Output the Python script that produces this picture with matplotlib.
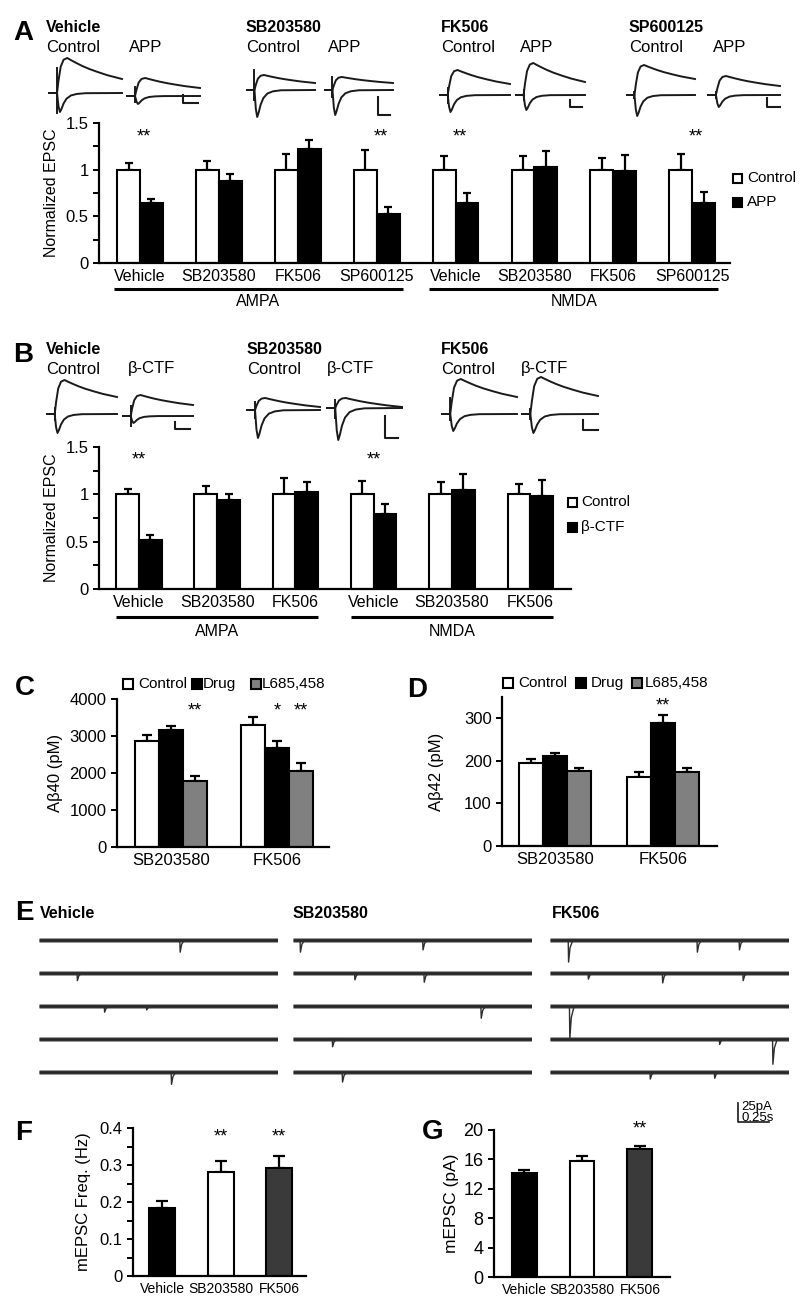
#!/usr/bin/env python3

import matplotlib
matplotlib.use("Agg")
import matplotlib.pyplot as plt
import numpy as np
from matplotlib.patches import Rectangle
from matplotlib.transforms import blended_transform_factory

plt.rcParams["font.family"] = ["Liberation Sans", "DejaVu Sans"]

W, H = 800, 1305  # canvas size in px (dpi 100)

# ---- A: normalized EPSC, control vs APP (AMPA groups then NMDA groups) ----
a_drugs = ["Vehicle", "SB203580", "FK506", "SP600125"] * 2
a_ctrl = [1.0, 1.0, 1.0, 1.0, 1.0, 1.0, 1.0, 1.0]
a_ctrl_err = [0.07, 0.09, 0.17, 0.21, 0.15, 0.15, 0.12, 0.17]
a_app = [0.64, 0.88, 1.22, 0.53, 0.64, 1.03, 0.99, 0.64]
a_app_err = [0.05, 0.07, 0.10, 0.07, 0.11, 0.17, 0.17, 0.12]
a_sig = [0, 3, 4, 7]

# ---- B: normalized EPSC, control vs beta-CTF ----
b_drugs = ["Vehicle", "SB203580", "FK506"] * 2
b_ctrl = [1.0, 1.0, 1.0, 1.0, 1.0, 1.0]
b_ctrl_err = [0.06, 0.09, 0.17, 0.14, 0.13, 0.11]
b_ctf = [0.52, 0.94, 1.02, 0.79, 1.05, 0.98]
b_ctf_err = [0.05, 0.06, 0.11, 0.11, 0.17, 0.17]
b_sig = [0, 3]

# ---- C / D: Abeta40 and Abeta42 (pM) ----
cd_drugs = ["SB203580", "FK506"]
c_ctrl = [2870, 3310]
c_ctrl_err = [150, 205]
c_drug = [3170, 2680]
c_drug_err = [100, 190]
c_l685 = [1780, 2050]
c_l685_err = [135, 215]
d_ctrl = [194, 162]
d_ctrl_err = [10, 12]
d_drug = [211, 289]
d_drug_err = [8, 18]
d_l685 = [176, 174]
d_l685_err = [7, 10]

# ---- F / G: mEPSC frequency and amplitude ----
fg_drugs = ["Vehicle", "SB203580", "FK506"]
f_freq = [0.185, 0.281, 0.293]
f_err = [0.018, 0.031, 0.030]
g_amp = [14.1, 15.8, 17.4]
g_err = [0.45, 0.6, 0.4]

# ---- E: mEPSC events per sweep (sweep index, time s, amplitude pA) ----
e_titles = ["Vehicle", "SB203580", "FK506"]
e_vehicle = [(0, 1.14, 16), (1, 0.31, 10), (2, 0.53, 8), (2, 0.87, 5), (4, 1.07, 16)]
e_sb = [(0, 0.06, 16), (0, 1.05, 13), (1, 0.50, 9), (1, 1.06, 12),
        (2, 1.52, 16), (3, 0.32, 10), (4, 0.40, 13)]
e_fk = [(0, 0.15, 29), (0, 1.19, 16), (0, 1.53, 13), (1, 0.31, 8), (1, 0.91, 13),
        (1, 1.56, 10), (2, 0.16, 43), (3, 1.37, 7), (3, 1.80, 33), (4, 0.81, 9),
        (4, 1.33, 8)]
sweep_len = 1.93   # s
sweep_gap = 43.4   # pA between stacked sweeps

# ---- evoked EPSC sweep template ----
tpl_t_up = [0, 0.11, 0.13, 0.16, 0.2, 0.25, 0.3, 0.37, 0.45, 0.55, 0.67, 0.8, 1.0]
tpl_rise = [0, 0, 0.35, 0.75, 0.95, 1.0]
tpl_decay = [0.9, 0.77, 0.63, 0.48, 0.33, 0.18, 0.0]
tpl_t_lo = [0, 0.11, 0.13, 0.15, 0.17, 0.2, 0.24, 0.3, 0.38, 0.5, 1.0]
tpl_lo = [0, 0, 0.7, 1.0, 0.85, 0.55, 0.3, 0.13, 0.05, 0.01, 0]
# amplitudes (peak up, end up, dip, artifact up/down)
a_up = [35, 18, 15, 13, 25, 32, 30, 19]
a_end = [14, 8, 7, 7, 11, 13, 16, 9]
a_low = [19, 8, 27, 25, 17, 15, 21, 12]
a_art = [(25, 20), (9, 6), (20, 10), (13, 7), (7, 8), (5, 5), (3, 3), (3, 3)]
b_up = [34, 21, 12, 10, 35, 37]
b_end = [17, 11, 3, 1, 17, 18]
b_low = [19, 7, 28, 32, 17, 19]
b_art = [(6, 6), (10, 10), (8, 8), (8, 10), (16, 6), (5, 5)]

trace_c = "#1a1a1a"
STAR_FS = 13


def fy(y):
    return 1 - y / H


def px_axes(x0, y0, x1, y1):
    return fig.add_axes([x0 / W, 1 - y1 / H, (x1 - x0) / W, (y1 - y0) / H])


def ftext(x, y, s, **kw):
    kw.setdefault("va", "center")
    kw.setdefault("fontsize", 12)
    fig.text(x / W, fy(y), s, **kw)


def style(ax, xlim, ylim, ticks, labels, minor=None, fs=12):
    for s in ["top", "right"]:
        ax.spines[s].set_visible(False)
    for s in ["left", "bottom"]:
        ax.spines[s].set_linewidth(1.6)
    ax.set_xlim(*xlim)
    ax.set_ylim(*ylim)
    ax.set_yticks(ticks, labels)
    if minor is not None:
        ax.set_yticks(minor, minor=True)
    ax.tick_params(axis="y", which="both", direction="out", length=4.5,
                   width=1.4, labelsize=fs, pad=3)
    ax.tick_params(axis="x", length=0, pad=4)
    ax.patch.set_visible(False)


def bars(ax, x, vals, errs, width, color, capsize=3.3):
    ax.errorbar(x, vals, yerr=[np.zeros(len(vals)), errs], fmt="none",
                ecolor="black", elinewidth=1.6, capsize=capsize, capthick=1.6,
                zorder=1)
    ax.bar(x, vals, width, color=color, edgecolor="black", linewidth=1.5,
           zorder=2)


def underline(ax, i0, i1, label, y_line, y_text, half):
    tr = blended_transform_factory(ax.transData, fig.transFigure)
    ax.plot([i0 - half, i1 + half], [fy(y_line)] * 2, transform=tr,
            color="black", lw=2.2, clip_on=False, solid_capstyle="butt")
    ax.text((i0 + i1) / 2, fy(y_text), label, transform=tr, ha="center",
            va="center", fontsize=11.5)


def key(x, y, face, label, size=9, fs=11, tx=None):
    ov.add_patch(Rectangle((x - size / 2, y - size / 2), size, size,
                           facecolor=face, edgecolor="black", lw=1.5))
    ov.text(tx if tx is not None else x + 9, y, label, va="center",
            fontsize=fs)


def sweep_pair(x0, base, w, up, end, low, art):
    tu = [x0 + f * w for f in tpl_t_up]
    vu = [r * up for r in tpl_rise] + [end + (up - end) * d for d in tpl_decay]
    ov.plot(tu, [base - v for v in vu], color=trace_c, lw=1.4)
    tl = [x0 + f * w for f in tpl_t_lo]
    ov.plot(tl, [base + low * v for v in tpl_lo], color=trace_c, lw=1.4)
    xa = x0 + tpl_t_up[1] * w
    ov.plot([xa, xa], [base - art[0], base + art[1]], color=trace_c, lw=1.4)


def scalebar(x, ytop, h, w):
    ov.plot([x, x, x + w], [ytop, ytop + h, ytop + h], color=trace_c, lw=1.5)


fig = plt.figure(figsize=(W / 100, H / 100), dpi=100)
ov = fig.add_axes([0, 0, 1, 1])
ov.set_xlim(0, W)
ov.set_ylim(H, 0)
ov.axis("off")

# ================= A =================
ftext(13, 33, "A", fontsize=20, fontweight="bold")
for x, name, other in [(46, "Vehicle", 129), (246, "SB203580", 328),
                       (441, "FK506", 520), (629, "SP600125", 713)]:
    ftext(x, 27, name, fontweight="bold", fontsize=11.5)
    ftext(x, 48, "Control")
    ftext(other, 47, "APP")
a_x0 = [49, 127, 247, 325, 440, 516, 627, 708]
a_base = [93, 96, 90, 90, 95, 95, 95, 95]
a_w = [73, 73, 68, 68, 70, 69, 68, 72]
for i in range(8):
    sweep_pair(a_x0[i], a_base[i], a_w[i], a_up[i], a_end[i], a_low[i], a_art[i])
for sb in [(183, 95, 8, 15), (378, 97, 18, 12), (570, 100, 7, 12), (767, 98, 9, 13)]:
    scalebar(*sb)

axA = px_axes(99, 123, 730, 263)
xa = np.arange(len(a_drugs))
bw = 0.29
bars(axA, xa - bw / 2, a_ctrl, a_ctrl_err, bw, "white", 3.2)
bars(axA, xa + bw / 2, a_app, a_app_err, bw, "black", 3.2)
style(axA, (-0.52, 7.48), (0, 1.5), [0, 0.5, 1, 1.5], ["0", "0.5", "1", "1.5"],
      minor=[0.25, 0.75, 1.25])
axA.set_xticks(xa, a_drugs, fontsize=11.5)
axA.set_ylabel("Normalized EPSC", fontsize=11.5)
axA.yaxis.set_label_coords((59 - 99) / 631, 0.5)
for i in a_sig:
    axA.text(i + 0.05, 1.35, "**", ha="center", va="center", fontsize=STAR_FS)
underline(axA, 0, 3, "AMPA", 289, 302, 0.33)
underline(axA, 4, 7, "NMDA", 289, 302, 0.33)
key(737, 178, "white", "Control", tx=747)
key(737, 202, "black", "APP", tx=747)

# ================= B =================
ftext(13, 355, "B", fontsize=20, fontweight="bold")
for x, name, other in [(46, "Vehicle", 128), (247, "SB203580", 327),
                       (441, "FK506", 521)]:
    ftext(x, 349, name, fontweight="bold", fontsize=11.5)
    ftext(x, 369, "Control")
    ftext(other, 369, "β-CTF")
b_x0 = [47, 123, 247, 327, 442, 522]
b_base = [414, 416, 410, 408, 414, 414]
b_w = [70, 70, 73, 75, 75, 76]
for i in range(6):
    sweep_pair(b_x0[i], b_base[i], b_w[i], b_up[i], b_end[i], b_low[i], b_art[i])
for sb in [(175, 422, 7, 15), (385, 416, 22, 13), (583, 420, 10, 15)]:
    scalebar(*sb)

axB = px_axes(99, 447, 571, 589)
xb = np.arange(len(b_drugs))
bw = 0.29
bars(axB, xb - bw / 2, b_ctrl, b_ctrl_err, bw, "white", 3.2)
bars(axB, xb + bw / 2, b_ctf, b_ctf_err, bw, "black", 3.2)
style(axB, (-0.51, 5.52), (0, 1.5), [0, 0.5, 1, 1.5], ["0", "0.5", "1", "1.5"],
      minor=[0.25, 0.75, 1.25])
axB.set_xticks(xb, b_drugs, fontsize=11.5)
axB.set_ylabel("Normalized EPSC", fontsize=11.5)
axB.yaxis.set_label_coords((59 - 99) / 472, 0.5)
for i in b_sig:
    axB.text(i, 1.36, "**", ha="center", va="center", fontsize=STAR_FS)
underline(axB, 0, 2, "AMPA", 617, 632, 0.29)
underline(axB, 3, 5, "NMDA", 617, 632, 0.29)
key(572, 502, "white", "Control", tx=581)
key(572, 527, "black", "β-CTF", tx=581)

# ================= C =================
ftext(15, 688, "C", fontsize=20, fontweight="bold")
axC = px_axes(117, 699, 329, 847)
xc = np.arange(len(cd_drugs))
bw = 0.225
bars(axC, xc - bw, c_ctrl, c_ctrl_err, bw, "white", 3.5)
bars(axC, xc, c_drug, c_drug_err, bw, "black", 3.5)
bars(axC, xc + bw, c_l685, c_l685_err, bw, "#808080", 3.5)
style(axC, (-0.51, 1.49), (0, 4000), [0, 1000, 2000, 3000, 4000],
      ["0", "1000", "2000", "3000", "4000"])
axC.set_xticks(xc, cd_drugs, fontsize=12)
axC.set_ylabel("Aβ40 (pM)", fontsize=12)
axC.yaxis.set_label_coords((63 - 117) / 212, 0.5)
axC.text(0 + bw, 3680, "**", ha="center", va="center", fontsize=STAR_FS)
axC.text(1, 3680, "*", ha="center", va="center", fontsize=STAR_FS)
axC.text(1 + bw, 3680, "**", ha="center", va="center", fontsize=STAR_FS)
key(128, 684, "white", "Control", size=10, tx=138)
key(197, 684, "black", "Drug", size=10, tx=203)
key(256, 684, "#808080", "L685,458", size=10, tx=262)

# ================= D =================
ftext(407, 690, "D", fontsize=20, fontweight="bold")
axD = px_axes(502, 697, 717, 846)
bw = 0.222
bars(axD, xc - bw, d_ctrl, d_ctrl_err, bw, "white", 3.5)
bars(axD, xc, d_drug, d_drug_err, bw, "black", 3.5)
bars(axD, xc + bw, d_l685, d_l685_err, bw, "#808080", 3.5)
style(axD, (-0.49, 1.5), (0, 350), [0, 100, 200, 300], ["0", "100", "200", "300"])
axD.set_xticks(xc, cd_drugs, fontsize=12)
axD.set_ylabel("Aβ42 (pM)", fontsize=12)
axD.yaxis.set_label_coords((444 - 502) / 215, 0.5)
axD.text(1, 328, "**", ha="center", va="center", fontsize=STAR_FS)
key(508, 683, "white", "Control", size=10, tx=518)
key(581, 683, "black", "Drug", size=10, tx=591)
key(637, 683, "#808080", "L685,458", size=10, tx=645)

# ================= E =================
ftext(15, 913, "E", fontsize=20, fontweight="bold")
e_events = [e_vehicle, e_sb, e_fk]
e_cols = [(39, 278), (293, 532), (550, 789)]
e_title_x = [40, 293, 552]
for k in range(3):
    ftext(e_title_x[k], 913, e_titles[k], fontweight="bold", fontsize=11.5)
    x0, x1 = e_cols[k]
    ax = px_axes(x0, 925, x1, 1125)
    ax.set_xlim(0, sweep_len)
    ax.set_ylim(-243, 19.7)
    ax.axis("off")
    for s in range(5):
        off = -s * sweep_gap
        ax.plot([0, sweep_len], [off, off], color="#9a9a9a", lw=3.6,
                solid_capstyle="butt")
        ax.plot([0, sweep_len], [off, off], color="#262626", lw=2.0,
                solid_capstyle="butt")
    for s, t, amp in e_events[k]:
        off = -s * sweep_gap
        ax.plot([t - 0.003, t, t + 0.012, t + 0.035],
                [off, off - amp, off - 0.35 * amp, off], color="#2e2e2e", lw=1.0)
    if k == 2:
        # 25 pA / 0.25 s scale bar
        ax.plot([1.52, 1.52, 1.77], [-214.5, -239.5, -239.5], color=trace_c,
                lw=1.2, clip_on=False)
        ax.text(1.545, -220, "25pA", fontsize=9.5, va="center")
        ax.text(1.545, -234, "0.25s", fontsize=9.5, va="center")

# ================= F =================
ftext(15, 1133, "F", fontsize=20, fontweight="bold")
axF = px_axes(133, 1128, 306, 1276)
xf = np.arange(len(fg_drugs))
bars(axF, xf, f_freq, f_err, 0.44, "black", 4)
for p, c in zip(axF.patches, ["black", "white", "#3a3a3a"]):
    p.set_facecolor(c)
style(axF, (-0.5, 2.46), (0, 0.4), [0, 0.1, 0.2, 0.3, 0.4],
      ["0", "0.1", "0.2", "0.3", "0.4"], minor=[0.05, 0.15, 0.25, 0.35])
axF.set_xticks(xf, fg_drugs, fontsize=10)
axF.set_ylabel("mEPSC Freq. (Hz)", fontsize=12)
axF.yaxis.set_label_coords((91 - 133) / 173, 0.5)
for i in [1, 2]:
    axF.text(i, 0.375, "**", ha="center", va="center", fontsize=STAR_FS)

# ================= G =================
ftext(422, 1132, "G", fontsize=20, fontweight="bold")
axG = px_axes(494, 1130, 670, 1277)
bars(axG, xf, g_amp, g_err, 0.43, "black", 4)
for p, c in zip(axG.patches, ["black", "white", "#3a3a3a"]):
    p.set_facecolor(c)
style(axG, (-0.52, 2.52), (0, 20), [0, 4, 8, 12, 16, 20],
      ["0", "4", "8", "12", "16", "20"], fs=13)
axG.set_xticks(xf, fg_drugs, fontsize=10)
axG.set_ylabel("mEPSC (pA)", fontsize=12.5)
axG.yaxis.set_label_coords((459 - 494) / 176, 0.5)
axG.text(2, 20.1, "**", ha="center", va="center", fontsize=STAR_FS)

fig.savefig("out.png", dpi=100)
